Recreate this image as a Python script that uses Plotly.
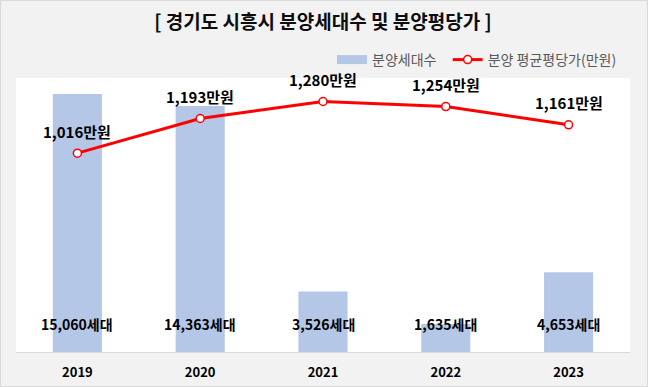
import plotly.graph_objects as go

years = ["2019", "2020", "2021", "2022", "2023"]
units = [15060, 14363, 3526, 1635, 4653]
price = [1016, 1193, 1280, 1254, 1161]

unit_labels = [f"{v:,}세대" for v in units]
price_labels = [f"{v:,}만원" for v in price]

FONT = "Noto Sans CJK KR"
BAR_COLOR = "#b4c7e7"

fig = go.Figure()
fig.add_trace(go.Bar(
    x=years, y=units, name="분양세대수",
    marker=dict(color=BAR_COLOR, line=dict(width=0)),
    yaxis="y", showlegend=False,
))
# legend proxy for the bar series (wide rectangle swatch)
fig.add_trace(go.Scatter(
    x=[None], y=[None], name="분양세대수\u00a0\u00a0", mode="lines",
    line=dict(color=BAR_COLOR, width=9), yaxis="y",
))
fig.add_trace(go.Scatter(
    x=years, y=price, name="분양 평균평당가(만원)",
    mode="lines+markers",
    line=dict(color="#ff0000", width=3),
    marker=dict(symbol="circle", size=8, color="white", line=dict(color="#ff0000", width=1.5)),
    yaxis="y2", cliponaxis=False,
))

for i, (p, lab) in enumerate(zip(price, price_labels)):
    fig.add_annotation(
        x=i, y=p, xref="x", yref="y2", yshift=22, text=f"<b>{lab}</b>",
        showarrow=False, font=dict(family=FONT, size=15, color="#000000"),
    )

for i, lab in enumerate(unit_labels):
    fig.add_annotation(
        x=i, y=0.06, xref="x", yref="y domain", text=f"<b>{lab}</b>",
        showarrow=False, font=dict(family=FONT, size=14, color="#000000"),
    )

W, H = 648, 387
L, R, T, B = 16, 18, 78, 35
pw, ph = W - L - R, H - T - B
fig.add_shape(type="rect", xref="paper", yref="paper",
              x0=-(L - 0.5) / pw, x1=1 + (R - 0.5) / pw,
              y0=-(B - 0.5) / ph, y1=1 + (T - 0.5) / ph,
              line=dict(color="#d9d9d9", width=1), layer="below")

fig.update_layout(
    width=W, height=H,
    margin=dict(l=L, r=R, t=T, b=B, autoexpand=False),
    paper_bgcolor="#f2f2f2", plot_bgcolor="#ffffff",
    title=dict(text="<b>[ 경기도 시흥시 분양세대수 및 분양평당가 ]</b>",
               x=0.5, xref="paper", xanchor="center", y=1 - 22 / H, yanchor="middle",
               font=dict(family=FONT, size=19, color="#0d0d0d")),
    bargap=0.6,
    showlegend=True,
    legend=dict(orientation="h", x=1 - 8 / pw, xanchor="right", y=1 + 18 / ph, yanchor="middle",
                font=dict(family=FONT, size=14, color="#595959"), bgcolor="rgba(0,0,0,0)",
                itemwidth=30),
    xaxis=dict(type="category", range=[-0.5, len(years) - 0.5], showgrid=False,
               showline=True, linecolor="#d9d9d9", linewidth=1,
               ticks="outside", ticklen=8, tickcolor="rgba(0,0,0,0)",
               tickfont=dict(family=FONT, size=13, color="#000000", weight="bold")),
    yaxis=dict(range=[0, 16000], visible=False, showgrid=False),
    yaxis2=dict(range=[0, 1400], overlaying="y", side="right", visible=False, showgrid=False),
    font=dict(family=FONT),
)

fig.write_html("out.html", config={"displayModeBar": False},
               post_script="document.body.style.margin='0';")
